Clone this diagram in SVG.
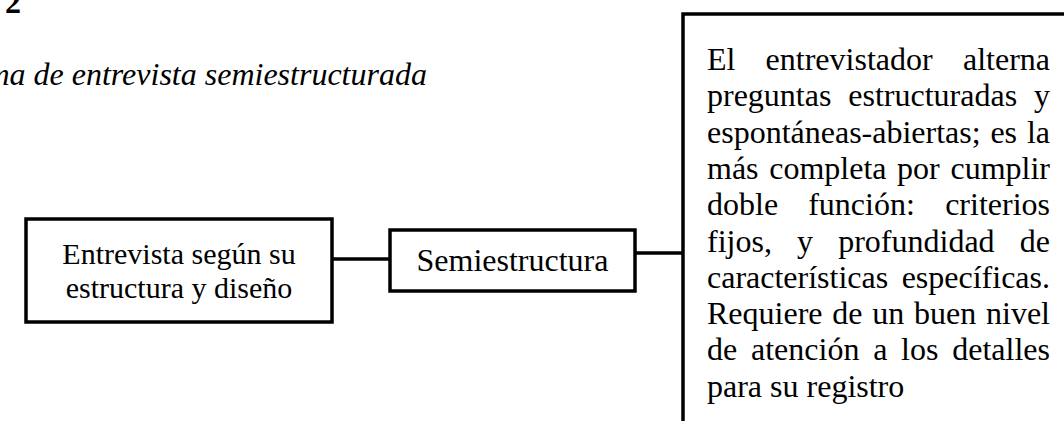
<svg xmlns="http://www.w3.org/2000/svg" width="1064" height="421" viewBox="0 0 1064 421">
<style>
.t{font-family:"Liberation Serif","Times New Roman",serif;font-size:32px;fill:#000}
.s{font-size:30px}
.box{fill:#fff;stroke:#000;stroke-width:3.5}
.ln{stroke:#000;stroke-width:3.5;fill:none}
.c{text-anchor:middle}
.e{text-anchor:end}
</style>
<rect width="1064" height="421" fill="#fff"/>
<text class="t" x="5" y="13" font-weight="bold">2</text>
<text class="t" x="-13.6" y="85" font-style="italic" font-size="31">ma de entrevista semiestructurada</text>
<g id="connectors">
<line class="ln" x1="332" y1="259" x2="390" y2="259"/>
<line class="ln" x1="620" y1="253" x2="683" y2="253"/>
</g>
<g id="node-entrevista">
<rect class="box" x="26" y="219" width="306" height="103"/>
<text class="t s c" x="179" y="264">Entrevista según su</text>
<text class="t s c" x="179" y="298">estructura y diseño</text>
</g>
<g id="node-semi">
<rect class="box" x="390" y="230" width="245" height="61"/>
<text class="t c" x="512.5" y="271">Semiestructura</text>
</g>
<g id="node-desc">
<rect class="box" x="683" y="14" width="420" height="440"/>
<text class="t"><tspan x="707" y="70">El</tspan><tspan x="765.6" y="70">entrevistador</tspan><tspan class="e" x="1050" y="70">alterna</tspan></text>
<text class="t"><tspan x="707" y="106.3">preguntas</tspan><tspan x="848.3" y="106.3">estructuradas</tspan><tspan class="e" x="1050" y="106.3">y</tspan></text>
<text class="t"><tspan x="707" y="142.6">espontáneas-abiertas;</tspan><tspan x="990.4" y="142.6">es</tspan><tspan class="e" x="1050" y="142.6">la</tspan></text>
<text class="t"><tspan x="707" y="178.9">más</tspan><tspan x="769.2" y="178.9">completa</tspan><tspan x="897.1" y="178.9">por</tspan><tspan class="e" x="1050" y="178.9">cumplir</tspan></text>
<text class="t"><tspan x="707" y="215.2">doble</tspan><tspan x="808.2" y="215.2">función:</tspan><tspan class="e" x="1050" y="215.2">criterios</tspan></text>
<text class="t"><tspan x="707" y="251.5">fijos,</tspan><tspan x="797.1" y="251.5">y</tspan><tspan x="838.2" y="251.5">profundidad</tspan><tspan class="e" x="1050" y="251.5">de</tspan></text>
<text class="t"><tspan x="707" y="287.8">características</tspan><tspan class="e" x="1050" y="287.8">específicas.</tspan></text>
<text class="t"><tspan x="707" y="324.1">Requiere</tspan><tspan x="832.3" y="324.1">de</tspan><tspan x="872.3" y="324.1">un</tspan><tspan x="914" y="324.1">buen</tspan><tspan class="e" x="1050" y="324.1">nivel</tspan></text>
<text class="t"><tspan x="707" y="360.4">de</tspan><tspan x="751" y="360.4">atención</tspan><tspan x="873.2" y="360.4">a</tspan><tspan x="901.1" y="360.4">los</tspan><tspan class="e" x="1050" y="360.4">detalles</tspan></text>
<text class="t" x="707" y="396.7">para su registro</text>
</g>
</svg>
